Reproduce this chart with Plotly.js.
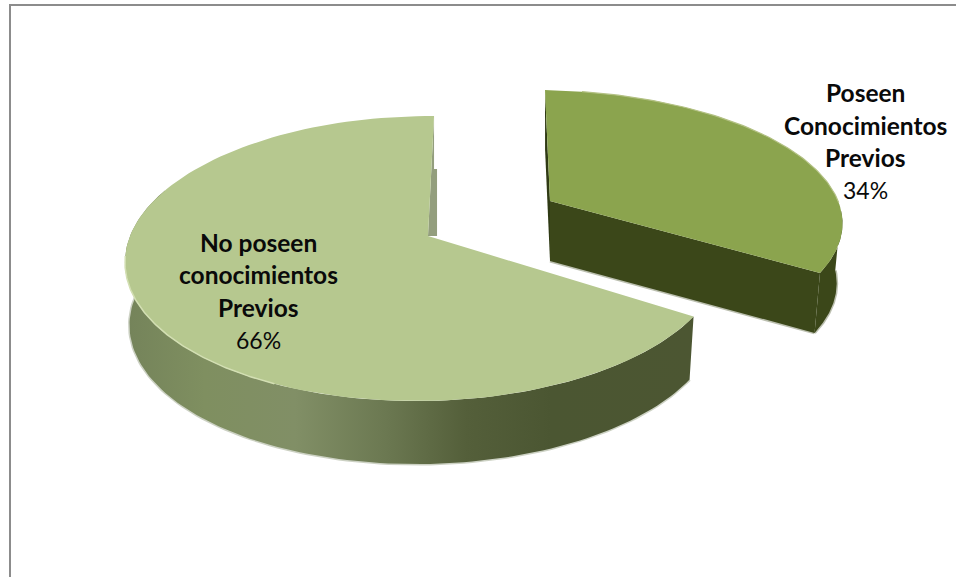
<!DOCTYPE html>
<html>
<head>
<meta charset="utf-8">
<script src="https://cdn.plot.ly/plotly-3.0.1.min.js"></script>
<style>html,body{margin:0;padding:0;background:#fff;overflow:hidden}</style>
</head>
<body>
<div id="chart" style="width:956px;height:577px"></div>
<script>
// Survey result: share of respondents with and without prior knowledge
const categories = ['Poseen Conocimientos Previos', 'No poseen conocimientos Previos'];
const labelLines = [['Poseen', 'Conocimientos', 'Previos'], ['No poseen', 'conocimientos', 'Previos']];
const values = [34, 66];

// Perspective view of each exploded wedge on the page
const views = [
  {cx: 550, cy: 201, A: 302.5, B: 128.5, c: -5.8, k: 0.158, m: 0.05, depth: 60, inset: 0.98},
  {cx: 428, cy: 236, A: 295, B: 139, c: 7, k: 0.158, m: 0.01, depth: 63, inset: 0.985}
];

function project(v, X, Y) {
  const w = 1 + v.k * Y + v.m * X;
  return [v.cx + (v.A * X + v.c * Y) / w, v.cy - v.B * Y / w];
}
function rim(v, a0, a1) {
  const pts = [], n = 120;
  for (let i = 0; i <= n; i++) {
    const t = (a0 + (a1 - a0) * i / n) * Math.PI / 180;
    pts.push(project(v, Math.sin(t), Math.cos(t)));
  }
  return pts;
}
function lower(v, p) {
  return [v.cx + (p[0] - v.cx) * v.inset, p[1] + v.depth];
}
function area(points, style) {
  return Object.assign({
    type: 'scatter', mode: 'lines', x: points.map(p => p[0]), y: points.map(p => p[1]),
    fill: 'toself', line: {width: 0}, hoverinfo: 'skip', showlegend: false
  }, style);
}
function stroke(points, color, width) {
  return {type: 'scatter', mode: 'lines', x: points.map(p => p[0]), y: points.map(p => p[1]),
    line: {color: color, width: width}, hoverinfo: 'skip', showlegend: false};
}

const total = values[0] + values[1];
const sweep = values[0] / total * 360;
const apexS = project(views[0], 0, 0), apexB = project(views[1], 0, 0);
const traces = [];

// Smaller wedge, pulled out to the right
{
  const v = views[0];
  const arc = rim(v, 0, sweep);
  const start = arc[0], end = arc[arc.length - 1];
  const outer = rim(v, sweep - 28, sweep);
  const under = outer.slice().reverse().map(p => lower(v, p));
  traces.push(area([start, lower(v, start), lower(v, apexS), apexS], {fillcolor: '#2f3a14'}));
  traces.push(stroke(under, 'rgba(60,73,25,0.35)', 3));
  traces.push(stroke([lower(v, apexS), lower(v, end)], 'rgba(60,73,25,0.35)', 3));
  traces.push(area([apexS, end, lower(v, end), lower(v, apexS)], {fillcolor: '#3b4719'}));
  traces.push(area(outer.concat(under), {fillcolor: '#3b4719'}));
  traces.push(area([apexS].concat(arc), {fillcolor: '#8ba44e'}));
  traces.push(stroke(arc.slice(8, 90), '#b3c184', 1.2));
}

// Larger wedge
{
  const v = views[1];
  const arc = rim(v, sweep, 360);
  const end = arc[arc.length - 1];
  const outer = rim(v, sweep, 290);
  const under = outer.slice().reverse().map(p => lower(v, p));
  const tab = [end[0] + 3, end[1] + 53];
  traces.push(area([end, [end[0], tab[1]], tab, [tab[0], apexB[1]], apexB], {fillcolor: '#939e7d'}));
  traces.push(stroke(under, 'rgba(110,122,84,0.35)', 3));
  traces.push(area(outer.concat(under), {
    fillcolor: '#667350',
    fillgradient: {type: 'horizontal', colorscale: [
      [0, '#74835a'], [0.14, '#7f8f60'], [0.3, '#818f66'], [0.46, '#6b7851'],
      [0.6, '#545f3a'], [0.75, '#4b5632'], [1, '#4c5632']
    ]}
  }));
  traces.push(area([apexB].concat(arc), {fillcolor: '#b6c88f'}));
  traces.push(stroke(rim(v, 205, 262), '#d3dfb3', 1.5));
}

const ink = '#0a0a0a';
const face = 'Lato, "Open Sans", sans-serif';
function textBlock(index, x, ys) {
  const out = labelLines[index].map((t, i) => ({
    x: x, y: ys[i], xref: 'x', yref: 'y', text: '<b>' + t + '</b>', showarrow: false,
    xanchor: 'center', yanchor: 'middle',
    font: {family: face, size: 24.5, color: ink}
  }));
  out.push({
    x: x, y: ys[3], xref: 'x', yref: 'y', text: values[index] + '%', showarrow: false,
    xanchor: 'center', yanchor: 'middle',
    font: {family: face, size: 23, color: ink}
  });
  return out;
}

const layout = {
  width: 956, height: 577, margin: {l: 0, r: 0, t: 0, b: 0},
  paper_bgcolor: '#ffffff', plot_bgcolor: '#ffffff', showlegend: false,
  xaxis: {range: [0, 956], visible: false, fixedrange: true},
  yaxis: {range: [577, 0], visible: false, fixedrange: true},
  annotations: textBlock(0, 865, [92, 125, 157, 190]).concat(textBlock(1, 258, [242, 274, 307, 340])),
  shapes: [
    {type: 'line', xref: 'x', yref: 'y', x0: 9, x1: 956, y0: 5, y1: 5, line: {color: '#8c8c8c', width: 2}},
    {type: 'line', xref: 'x', yref: 'y', x0: 10, x1: 10, y0: 4, y1: 577, line: {color: '#8c8c8c', width: 2}}
  ]
};

Plotly.newPlot('chart', traces, layout, {displayModeBar: false, staticPlot: true});
</script>
</body>
</html>
